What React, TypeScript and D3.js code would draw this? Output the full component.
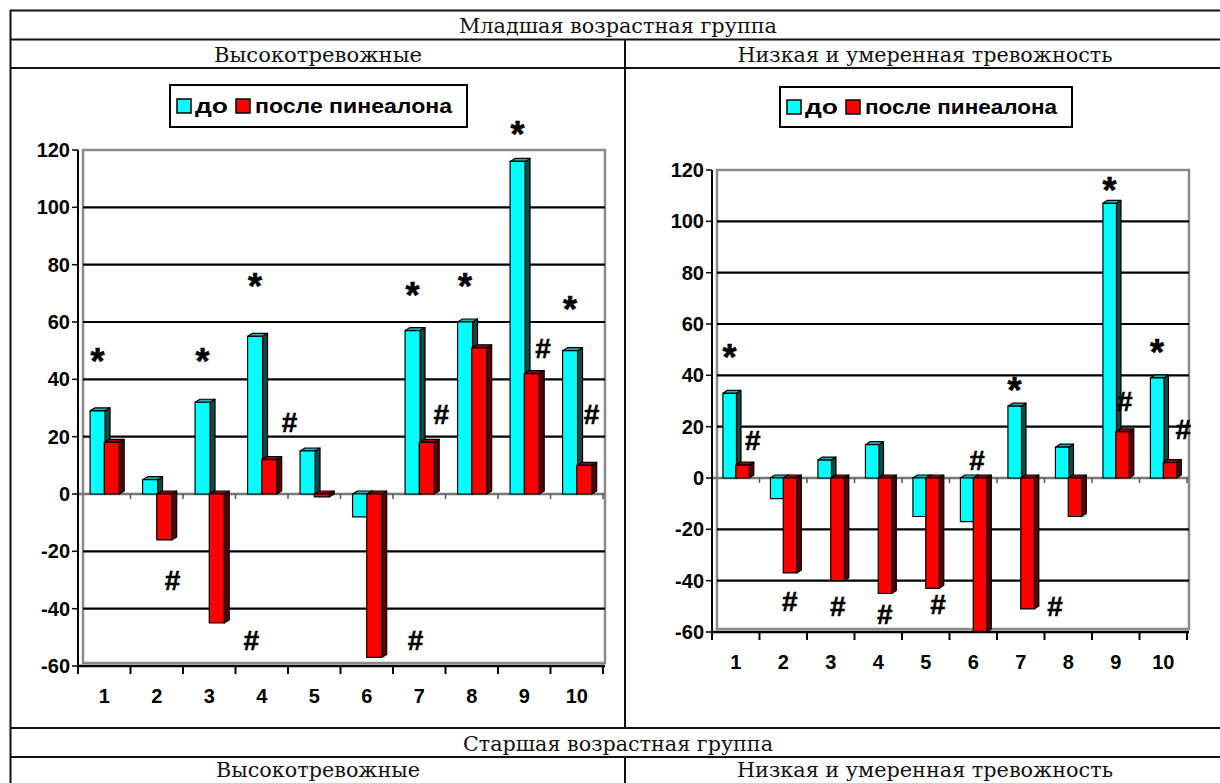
import React from 'react';
import * as d3 from 'd3';

// ---------- data ----------
const categories = ['1', '2', '3', '4', '5', '6', '7', '8', '9', '10'];
const yTickValues = [-60, -40, -20, 0, 20, 40, 60, 80, 100, 120];
const seriesNames = ['до', 'после пинеалона'];

// Младшая возрастная группа — Высокотревожные
const highBefore = [29, 5, 32, 55, 15, -8, 57, 60, 116, 50];
const highAfter = [18, -16, -45, 12, -1, -57, 18, 51, 42, 10];
// Младшая возрастная группа — Низкая и умеренная тревожность
const lowBefore = [33, -8, 7, 13, -15, -17, 28, 12, 107, 39];
const lowAfter = [5, -37, -40, -45, -43, -60, -51, -15, 18, 6];

// significance marks: [category index, value at glyph centre]
const highStars = [[0, 49], [2, 49], [3, 75], [6, 72], [7, 75], [8, 128], [9, 67]];
const lowStars = [[0, 50], [6, 37], [8, 115], [9, 52]];
// [category index, position inside band (band widths), value at glyph centre]
const highHashes = [[1, 0.8, -30], [2, 1.3, -51], [3, 1.03, 25], [5, 1.43, -51], [6, 0.92, 28], [8, 0.86, 51], [9, 0.78, 28]];
const lowHashes = [[0, 0.86, 15], [1, 0.64, -48], [2, 0.65, -50], [3, 0.64, -53], [4, 0.76, -49], [5, 0.58, 7], [7, 0.22, -50], [8, 0.69, 30], [9, 0.92, 19]];

const headerTop = 'Младшая возрастная группа';
const headerBottom = 'Старшая возрастная группа';
const subHeaders = ['Высокотревожные', 'Низкая и умеренная тревожность'];

const SANS = '"Liberation Sans", Arial, sans-serif';
const SERIF = '"DejaVu Serif", "Liberation Serif", serif';

const COLORS = {
  cyanFront: '#00FFFF',
  cyanSide: '#0d4a48',
  cyanTop: '#19b5b5',
  redFront: '#FF0000',
  redSide: '#5a0000',
  redTop: '#9a0000',
};

type ChartProps = {
  x0: number; x1: number; yTop: number; yBot: number;
  before: number[]; after: number[];
  stars: number[][]; hashes: number[][];
  legendBox: [number, number, number, number];
  clipId: string; clipRight: number;
};

function Bar3D({ x, w, v, y, dx, dy, front, side, top }: any) {
  const y0 = y(0), y1 = y(v);
  const yt = Math.min(y0, y1), yb = Math.max(y0, y1);
  const sideP = [[x + w, yt], [x + w + dx, yt - dy], [x + w + dx, yb - dy], [x + w, yb]];
  const topP = [[x, yt], [x + dx, yt - dy], [x + w + dx, yt - dy], [x + w, yt]];
  const pts = (p: number[][]) => p.map((q) => q.join(',')).join(' ');
  return (
    <g stroke="#000" strokeWidth={1.2} strokeLinejoin="round">
      <polygon points={pts(sideP)} fill={side} />
      <polygon points={pts(topP)} fill={top} />
      <rect x={x} y={yt} width={w} height={Math.max(yb - yt, 0.5)} fill={front} />
    </g>
  );
}

function Legend({ box }: { box: [number, number, number, number] }) {
  const [bx, by, bw, bh] = box;
  const cy = by + bh / 2;
  return (
    <g>
      <rect x={bx} y={by} width={bw} height={bh} fill="#fff" stroke="#000" strokeWidth={2} />
      <rect x={bx + 7} y={cy - 7} width={14} height={14} fill={COLORS.cyanFront} stroke="#000" strokeWidth={1.5} />
      <text x={bx + 25} y={cy + 7} fontFamily={SANS} fontWeight="bold" fontSize={21} textLength={33} lengthAdjust="spacingAndGlyphs">{seriesNames[0]}</text>
      <rect x={bx + 66} y={cy - 7} width={14} height={14} fill={COLORS.redFront} stroke="#000" strokeWidth={1.5} />
      <text x={bx + 85} y={cy + 7} fontFamily={SANS} fontWeight="bold" fontSize={21} textLength={bw - 100} lengthAdjust="spacingAndGlyphs">{seriesNames[1]}</text>
    </g>
  );
}

function Chart(p: ChartProps) {
  const y = d3.scaleLinear().domain([-60, 120]).range([p.yBot, p.yTop]);
  const x = d3.scaleBand<string>().domain(categories).range([p.x0, p.x1]);
  const bw = x.bandwidth();
  const dx = bw * 0.095, dy = 3;
  const wallL = p.x0 + 5;
  const wallR = p.x1 + 2;
  const barW = bw * 0.285;
  const boundaries = d3.range(categories.length + 1).map((i) => p.x0 + i * bw);
  return (
    <g>
      <defs>
        <clipPath id={p.clipId}>
          <rect x={p.x0 - 80} y={p.yTop - 60} width={p.clipRight - p.x0 + 80} height={p.yBot - p.yTop + 120} />
        </clipPath>
      </defs>
      {/* back wall */}
      <rect x={wallL} y={p.yTop} width={wallR - wallL} height={p.yBot - 3 - p.yTop} fill="#fff" stroke="#8a8a8a" strokeWidth={2.5} />
      {yTickValues.filter((t) => t !== 0 && t !== 120 && t !== -60).map((t) => (
        <line key={t} x1={wallL} x2={wallR} y1={y(t)} y2={y(t)} stroke="#000" strokeWidth={2.2} />
      ))}
      {/* zero floor */}
      <line x1={p.x0} x2={wallR} y1={y(0)} y2={y(0)} stroke="#777" strokeWidth={2.5} />
      {boundaries.map((b, i) => (
        <line key={i} x1={b} x2={b} y1={y(0)} y2={y(0) + 5} stroke="#555" strokeWidth={1.5} />
      ))}
      {/* bars */}
      {categories.map((c, i) => {
        const bx = x(c) as number;
        return (
          <g key={c}>
            <Bar3D x={bx + bw * 0.23} w={barW} v={p.before[i]} y={y} dx={dx} dy={dy}
              front={COLORS.cyanFront} side={COLORS.cyanSide} top={COLORS.cyanTop} />
            <Bar3D x={bx + bw * 0.5} w={barW} v={p.after[i]} y={y} dx={dx} dy={dy}
              front={COLORS.redFront} side={COLORS.redSide} top={COLORS.redTop} />
          </g>
        );
      })}
      {/* axes */}
      <line x1={p.x0} x2={p.x0} y1={p.yTop} y2={p.yBot} stroke="#000" strokeWidth={2} />
      <line x1={p.x0} x2={wallR} y1={p.yBot} y2={p.yBot} stroke="#000" strokeWidth={2.5} />
      {yTickValues.map((t) => (
        <g key={t}>
          <line x1={p.x0 - 6} x2={p.x0} y1={y(t)} y2={y(t)} stroke="#000" strokeWidth={1.5} />
          <text x={p.x0 - 8} y={y(t) + 7} textAnchor="end" fontFamily={SANS} fontWeight="bold" fontSize={20}>{t}</text>
        </g>
      ))}
      {boundaries.map((b, i) => (
        <line key={i} x1={b} x2={b} y1={p.yBot} y2={p.yBot + 8} stroke="#000" strokeWidth={2} />
      ))}
      {categories.map((c) => (
        <text key={c} x={(x(c) as number) + bw / 2} y={p.yBot + 37} textAnchor="middle" fontFamily={SANS} fontWeight="bold" fontSize={20}>{c}</text>
      ))}
      {/* significance marks */}
      <g clipPath={`url(#${p.clipId})`} fontFamily={SANS} fontWeight="bold" fill="#000">
        {p.stars.map(([ci, v], k) => (
          <text key={'s' + k} x={(x(categories[ci]) as number) + bw * 0.37} y={y(v) + 20} textAnchor="middle" fontSize={36} stroke="#000" strokeWidth={0.6}>*</text>
        ))}
        {p.hashes.map(([ci, f, v], k) => (
          <text key={'h' + k} x={(x(categories[ci]) as number) + bw * f} y={y(v) + 10} textAnchor="middle" fontSize={28} stroke="#000" strokeWidth={0.5}>#</text>
        ))}
      </g>
      <Legend box={p.legendBox} />
    </g>
  );
}

function HeaderText({ x, y, len, children }: any) {
  return (
    <text x={x} y={y} textAnchor="middle" fontFamily={SERIF} fontSize={21} fill="#111"
      textLength={len} lengthAdjust="spacingAndGlyphs">{children}</text>
  );
}

export default function App() {
  const W = 1220, H = 783;
  const rows = [10.5, 39.5, 68, 728, 757];
  return (
    <svg width={W} height={H} style={{ position: 'absolute', left: 0, top: 0, background: '#fff' }}>
      <rect x={0} y={0} width={W} height={H} fill="#fff" />
      {/* table grid */}
      <g stroke="#111" strokeWidth={2}>
        {rows.map((r) => <line key={r} x1={10} x2={W} y1={r} y2={r} />)}
        <line x1={10.5} x2={10.5} y1={10} y2={H} />
        <line x1={625} x2={625} y1={39.5} y2={728} />
        <line x1={625} x2={625} y1={757} y2={H} />
      </g>
      <HeaderText x={618} y={33} len={318}>{headerTop}</HeaderText>
      <HeaderText x={318} y={62} len={208}>{subHeaders[0]}</HeaderText>
      <HeaderText x={925} y={62} len={375}>{subHeaders[1]}</HeaderText>
      <HeaderText x={618} y={751} len={310}>{headerBottom}</HeaderText>
      <HeaderText x={318} y={777} len={204}>{subHeaders[0]}</HeaderText>
      <HeaderText x={925} y={777} len={376}>{subHeaders[1]}</HeaderText>

      <Chart x0={78} x1={603} yTop={150} yBot={666} before={highBefore} after={highAfter}
        stars={highStars} hashes={highHashes} legendBox={[170, 85, 297, 42]} clipId="clipL" clipRight={622} />
      <Chart x0={712} x1={1187} yTop={170} yBot={632} before={lowBefore} after={lowAfter}
        stars={lowStars} hashes={lowHashes} legendBox={[780, 87, 292, 40]} clipId="clipR" clipRight={1191} />
    </svg>
  );
}
